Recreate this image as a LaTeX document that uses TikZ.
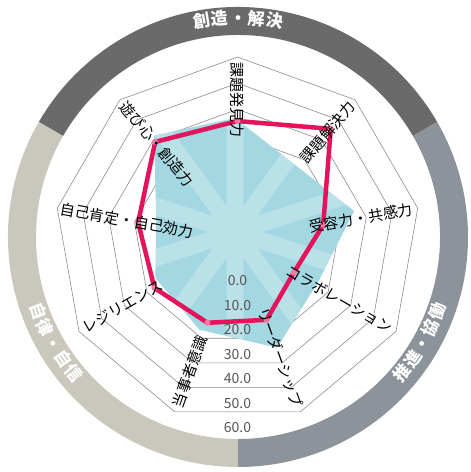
\documentclass[tikz,border=0pt]{standalone}
\usepackage{fontspec}
\setmainfont{Noto Sans CJK JP}
\usetikzlibrary{calc}
\definecolor{bandtop}{RGB}{106,106,106}
\definecolor{bandright}{RGB}{141,147,155}
\definecolor{bandleft}{RGB}{202,200,188}
\definecolor{areablue}{RGB}{163,215,225}
\definecolor{linered}{RGB}{228,20,92}
\definecolor{markpink}{RGB}{240,125,160}
\definecolor{gridgray}{RGB}{140,140,140}
\definecolor{numgray}{RGB}{85,85,85}

\begin{document}
\begin{tikzpicture}[x=1bp, y=1bp,
  axislabel/.style={inner sep=0pt, font=\fontsize{15bp}{16bp}\selectfont},
  scalelabel/.style={inner sep=0pt, text=numgray, font=\fontsize{14bp}{16bp}\selectfont},
  bandlabel/.style={inner sep=0pt, text=white, text height=1.5ex, text depth=.25ex, font=\fontsize{17bp}{19bp}\selectfont\bfseries},
  ring/.style={draw=gridgray, line width=0.6bp}]

\useasboundingbox (-237.5,-232) rectangle (233.5,240);

% outer band
\begin{scope}[shift={(0.5,3)}]
\fill[bandtop] (30:230) arc[start angle=30, end angle=150, radius=230] -- (150:202) arc[start angle=150, end angle=30, radius=202] -- cycle;
\fill[bandleft] (150:230) arc[start angle=150, end angle=270, radius=230] -- (270:202) arc[start angle=270, end angle=150, radius=202] -- cycle;
\fill[bandright] (270:230) arc[start angle=270, end angle=390, radius=230] -- (30:202) arc[start angle=390, end angle=270, radius=202] -- cycle;
\foreach \c [count=\i] in {創,造,・,解,決}
  \node[bandlabel, rotate={(3-\i)*4.8}] (t\i) at ({90+(3-\i)*4.8}:216) {\c};
\foreach \c [count=\i] in {推,進,・,協,働}
  \node[bandlabel, rotate={60+(\i-3)*4.8}] (p\i) at ({-30+(\i-3)*4.8}:216) {\c};
\foreach \c [count=\i] in {自,律,・,自,信}
  \node[bandlabel, rotate={300+(\i-3)*4.8}] (q\i) at ({210+(\i-3)*4.8}:216) {\c};
\end{scope}

% grid
\foreach \v in {0,10,...,60} {
  \pgfmathsetmacro\r{(\v+10)*2.614}
  \draw[ring] (90:\r) \foreach \a in {50,10,...,-230} {-- (\a:\r)} -- cycle;
}

% blue area
\coordinate (B) at (-2.5,8);
\foreach \v [count=\i] in {33.6,24.4,36.3,27.1,37.1,29.8,25.2,20.6,38.2}
  \coordinate (b\i) at ($(B)+({130-40*\i}:{(\v+10)*2.614})$);
\fill[areablue] (b1) \foreach \i in {2,...,9} {-- (b\i)} -- cycle;
\begin{scope}
\clip (b1) \foreach \i in {2,...,9} {-- (b\i)} -- cycle;
\fill[white, opacity=.25] \foreach \a in {90,54,18,-18,-54} {
  ($(B)+(\a:200)+(\a+90:8.5)$) -- ($(B)+(\a:200)+(\a-90:8.5)$) -- ($(B)+(\a+180:200)+(\a-90:8.5)$) -- ($(B)+(\a+180:200)+(\a+90:8.5)$) -- cycle};
\end{scope}

% red line
\foreach \v [count=\i] in {35.5,45.5,23.3,14.9,22.5,23.7,26.7,28.6,39}
  \coordinate (r\i) at ({130-40*\i}:{(\v+10)*2.614});
\draw[linered, line width=4.5bp, line join=round] (r1) \foreach \i in {2,...,9} {-- (r\i)} -- cycle;
\foreach \i in {1,...,9}
  \fill[markpink] (r\i) circle (3);

% scale
\foreach \v in {0,10,...,60}
  \node[scalelabel] (s\v) at (0,{-(0.9397*(\v+10)*2.614+16)}) {\v.0};

% axes
\node[axislabel, rotate=-90, anchor=west] (l1) at (90:178) {課題発見力};
\node[axislabel, rotate=50, anchor=east] (l2) at (50:178) {課題解決力};
\node[axislabel, rotate=10, anchor=east] (l3) at (10:178) {受容力・共感力};
\node[axislabel, rotate=-30, anchor=east] (l4) at (-30:178) {コラボレーション};
\node[axislabel, rotate=-70, anchor=east] (l5) at (-70:178) {リーダーシップ};
\node[axislabel, rotate=70, anchor=west] (l6) at (-110:178) {当事者意識};
\node[axislabel, rotate=30, anchor=west] (l7) at (-150:178) {レジリエンス};
\node[axislabel, rotate=-10, anchor=west] (l8) at (170:180) {自己肯定・自己効力};
\node[axislabel, rotate=-50, anchor=west] (l9) at (130:178) {遊び心・創造力};
\end{tikzpicture}
\end{document}
